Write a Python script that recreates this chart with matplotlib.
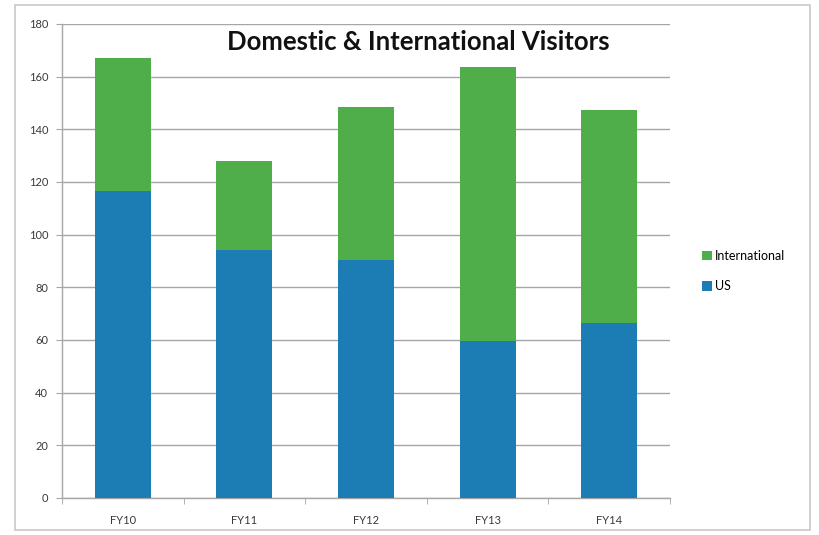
import matplotlib
matplotlib.use("Agg")
import matplotlib.pyplot as plt
import numpy as np
from matplotlib.patches import Rectangle

years = ["FY10", "FY11", "FY12", "FY13", "FY14"]
us = [116.5, 94, 90.5, 59.5, 66.5]
international = [50.5, 34, 58, 104, 81]
y_ticks = [0, 20, 40, 60, 80, 100, 120, 140, 160, 180]

green = "#4fae4a"
blue = "#1b7db3"
grid_col = "#a6a6a6"

plt.rcParams["font.family"] = ["Lato", "DejaVu Sans"]

fig = plt.figure(figsize=(8.19, 5.35), dpi=100)
fig.patch.set_facecolor("white")
fig.patches.append(Rectangle((15 / 819, 5 / 535), 795 / 819, 525 / 535,
                             transform=fig.transFigure, fill=False,
                             edgecolor="#c8c8c8", linewidth=1.2))

ax = fig.add_axes([62 / 819, 37 / 535, 608 / 819, 474 / 535])
x = np.arange(len(years))
ax.bar(x, us, width=0.46, color=blue, label="US", zorder=3)
ax.bar(x, international, width=0.46, bottom=us, color=green,
       label="International", zorder=3)

ax.set_xlim(-0.5, len(years) - 0.5)
ax.set_ylim(0, 180)
ax.set_yticks(y_ticks)
ax.yaxis.grid(True, color=grid_col, linewidth=1.0, zorder=0)
ax.set_axisbelow(True)
ax.set_xticks(x)
ax.set_xticklabels(years)
ax.set_xticks(np.arange(len(years) + 1) - 0.5, minor=True)
ax.tick_params(axis="x", which="major", length=0, pad=12,
               labelsize=8, labelcolor="#3a3a3a")
ax.tick_params(axis="x", which="minor", length=4, color=grid_col)
ax.tick_params(axis="y", length=4, color=grid_col, labelsize=8,
               labelcolor="#3a3a3a", pad=6)
for s in ("top", "right"):
    ax.spines[s].set_visible(False)
for s in ("left", "bottom"):
    ax.spines[s].set_color(grid_col)
    ax.spines[s].set_linewidth(1.0)

fig.text(418 / 819, (535 - 42) / 535, "Domestic & International Visitors",
         fontsize=18.5, fontweight="bold", color="#111111",
         ha="center", va="center")

handles, labels = ax.get_legend_handles_labels()
fig.legend(handles[::-1], labels[::-1], loc="center left",
           bbox_to_anchor=(697 / 819, (535 - 271) / 535),
           frameon=False, fontsize=9, handlelength=0.8, handleheight=0.8,
           handletextpad=0.2, labelspacing=1.5, borderaxespad=0)

fig.savefig("out.png", dpi=100, facecolor="white")
